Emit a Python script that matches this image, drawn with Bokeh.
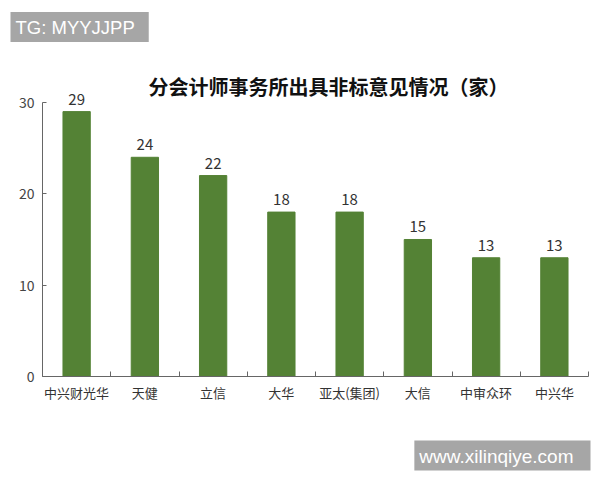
from bokeh.plotting import figure
from bokeh.models import Label, FixedTicker, Range1d, ColumnDataSource, Title, LinearAxis
from bokeh.core.properties import value
from bokeh.embed import file_html
from bokeh.resources import INLINE

categories = ["中兴财光华", "天健", "立信", "大华", "亚太(集团)", "大信", "中审众环", "中兴华"]
counts = [29, 24, 22, 18, 18, 15, 13, 13]
title_text = "分会计师事务所出具非标意见情况（家）"
y_ticks = [0, 10, 20, 30]

CJK = "Noto Sans CJK SC"
xs = [i + 0.5 for i in range(len(categories))]
src = ColumnDataSource(dict(x=xs, top=counts, lab=[str(c) for c in counts]))

p = figure(width=600, height=480, output_backend="svg", toolbar_location=None,
           x_range=Range1d(0, len(categories)), y_range=Range1d(0, 35.91),
           min_border_left=42, min_border_right=12, min_border_top=48, min_border_bottom=104)
p.outline_line_color = None
p.grid.grid_line_color = None
p.background_fill_color = "white"
p.border_fill_color = "white"

p.vbar(x="x", top="top", width=0.4, source=src, color="#548235")
p.text(x="x", y="top", text="lab", source=src, text_align="center", text_baseline="bottom",
       y_offset=-7, text_font=value(CJK), text_font_size="15px", text_color="#333333")

# x axis
xa = p.xaxis[0]
xa.ticker = FixedTicker(ticks=xs, minor_ticks=list(range(len(categories) + 1)))
xa.major_label_overrides = {x: c for x, c in zip(xs, categories)}
xa.major_tick_line_color = None
xa.major_tick_in = 0
xa.major_tick_out = 0
xa.minor_tick_in = 5
xa.minor_tick_out = 0
xa.minor_tick_line_color = "#666666"
xa.axis_line_color = "#666666"
xa.major_label_text_font = CJK
xa.major_label_text_font_size = "13px"
xa.major_label_text_color = "#333333"
xa.major_label_standoff = 6

ya = p.yaxis[0]
ya.ticker = FixedTicker(ticks=y_ticks)
ya.bounds = (0, 30)
ya.major_tick_in = 4
ya.major_tick_out = 0
ya.minor_tick_line_color = None
ya.axis_line_color = "#666666"
ya.major_tick_line_color = "#666666"
ya.major_label_text_font = CJK
ya.major_label_text_font_size = "14px"
ya.major_label_text_color = "#444444"
ya.major_label_standoff = 8

p.add_layout(Label(x=4.19, y=31.75, text=title_text, text_align="center", text_baseline="middle",
                   text_font=CJK, text_font_size="20px", text_font_style="bold", text_color="#111111"))

p.add_layout(Title(text="TG: MYYJJPP", align="left", offset=-32, standoff=13,
                   text_font="Liberation Sans", text_font_size="18.5px", text_font_style="normal",
                   text_color="white", background_fill_color="#a6a6a6",
                   padding=dict(left=5, right=14, top=5, bottom=4)), "above")

# invisible spacer panel between the x axis and the bottom caption
spacer = LinearAxis(ticker=FixedTicker(ticks=[0]), axis_line_color=None,
                    major_tick_line_color="white", minor_tick_line_color=None,
                    major_tick_in=0, major_tick_out=29, minor_tick_out=0,
                    major_label_overrides={0: " "}, major_label_text_font_size="1px",
                    major_label_text_color="white", major_label_standoff=0)
p.add_layout(spacer, "below")

p.add_layout(Title(text="www.xilinqiye.com", align="right", offset=-2, standoff=2,
                   text_font="Liberation Sans", text_font_size="19px", text_font_style="normal",
                   text_color="white", background_fill_color="#a6a6a6",
                   padding=dict(left=5, right=17, top=5, bottom=4)), "below")

open("out.html", "w").write(file_html(p, INLINE))
